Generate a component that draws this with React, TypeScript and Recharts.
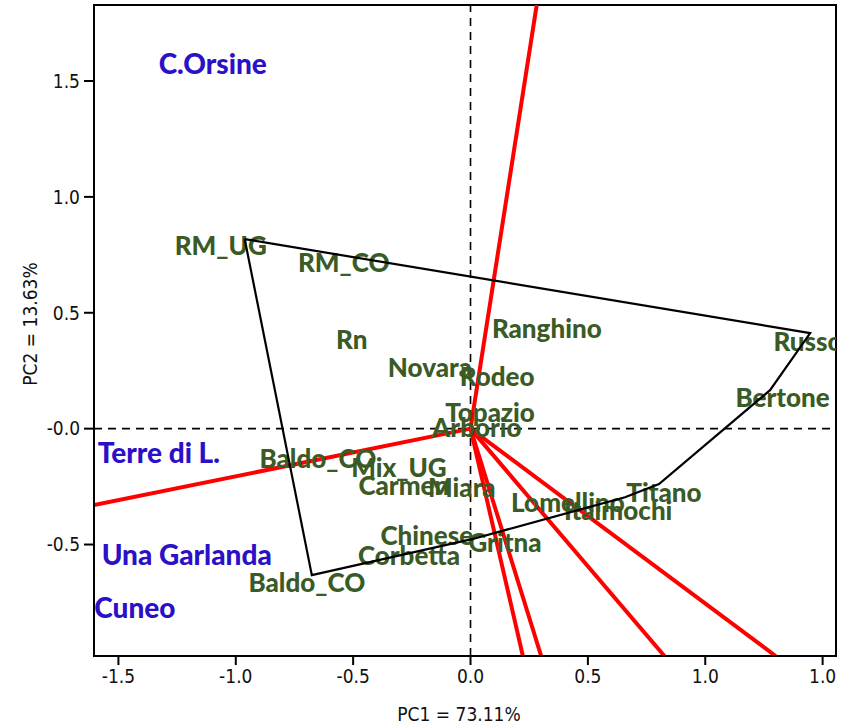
import {
  ComposedChart,
  Scatter,
  XAxis,
  YAxis,
  ReferenceLine,
  ReferenceArea,
} from "recharts";

// genotype labels (green) and their PC1 / PC2 scores
const genoNames = [
  "RM_UG", "RM_CO", "Rn", "Novara", "Ranghino", "Rodeo", "Russo", "Bertone",
  "Topazio", "Arborio", "Baldo_CO", "Mix_UG", "Carmen", "Miara", "Lomellino",
  "Itaimochi", "Titano", "Chinese", "Gritna", "Corbetta", "Baldo_CO",
];
const genoPC1 = [
  -1.064, -0.54, -0.506, -0.173, 0.325, 0.113, 1.438, 1.329,
  0.083, 0.027, -0.65, -0.305, -0.284, -0.037, 0.415,
  0.629, 0.824, -0.186, 0.147, -0.262, -0.697,
];
const genoPC2 = [
  0.792, 0.718, 0.386, 0.265, 0.433, 0.226, 0.379, 0.136,
  0.071, 0.006, -0.127, -0.166, -0.244, -0.252, -0.317,
  -0.352, -0.274, -0.459, -0.49, -0.546, -0.662,
];

// environment labels (blue)
const envNames = ["C.Orsine", "Terre di L.", "Una Garlanda", "Cuneo"];
const envPC1 = [-1.098, -1.328, -1.209, -1.43];
const envPC2 = [1.577, -0.101, -0.541, -0.77];

// environment vectors from the origin
const vecPC1 = [0.282, -1.604, 0.223, 0.301, 0.826, 1.3];
const vecPC2 = [1.828, -0.33, -0.981, -0.981, -0.981, -0.981];

// polygon (convex hull) vertices
const hullPC1 = [-0.962, 1.447, 1.276, 0.803, 0.658, 0.006, -0.676, -0.962];
const hullPC2 = [0.818, 0.412, 0.166, -0.239, -0.296, -0.477, -0.632, 0.818];

const xTicks = [-1.5, -1, -0.5, 0, 0.5, 1, 1.5];
const xTickLabels = ["-1.5", "-1.0", "-0.5", "0.0", "0.5", "1.0", "1.0"];
const yTicks = [-0.5, 0, 0.5, 1, 1.5];
const yTickLabels = ["-0.5", "-0.0", "0.5", "1.0", "1.5"];

const X_DOMAIN: [number, number] = [-1.604, 1.557];
const Y_DOMAIN: [number, number] = [-0.981, 1.828];

const genoData = genoNames.map((name, i) => ({ x: genoPC1[i], y: genoPC2[i], name }));
const envData = envNames.map((name, i) => ({ x: envPC1[i], y: envPC2[i], name }));
const hullData = hullPC1.map((x, i) => ({ x, y: hullPC2[i] }));

const GREEN = "#3a5a26";
const BLUE = "#2b10c8";
const TICK_FONT = "'DejaVu Sans Condensed', 'DejaVu Sans', sans-serif";
const LABEL_FONT = "Lato, 'Open Sans', sans-serif";

const makeLabel = (color: string, size: number) => (props: any) => {
  const { cx, cy, payload } = props;
  return (
    <text
      x={cx}
      y={cy}
      textAnchor="middle"
      dominantBaseline="central"
      fill={color}
      fontSize={size}
      fontWeight={900}
      fontFamily={LABEL_FONT}
    >
      {payload.name}
    </text>
  );
};

export default function App() {
  return (
    <div style={{ position: "absolute", left: 0, top: 0, background: "#fff" }}>
      <ComposedChart
        width={844}
        height={724}
        margin={{ top: 5, right: 8, bottom: 18, left: 0 }}
      >
        <XAxis
          type="number"
          dataKey="x"
          domain={X_DOMAIN}
          ticks={xTicks}
          allowDataOverflow
          height={50}
          tickSize={9}
          tickMargin={5}
          axisLine={{ stroke: "#000", strokeWidth: 2 }}
          tickLine={{ stroke: "#000", strokeWidth: 2 }}
          tick={{ fill: "#111", fontSize: 19, fontFamily: TICK_FONT }}
          tickFormatter={(v: number) => xTickLabels[xTicks.indexOf(v)]}
          label={{
            content: () => (
              <text x={459} y={714} textAnchor="middle" dominantBaseline="central" fill="#111" fontSize={19} fontFamily={TICK_FONT}>
                PC1 = 73.11%
              </text>
            ),
          }}
        />
        <YAxis
          type="number"
          dataKey="y"
          domain={Y_DOMAIN}
          ticks={yTicks}
          allowDataOverflow
          width={94}
          tickSize={10}
          tickMargin={4}
          axisLine={{ stroke: "#000", strokeWidth: 2 }}
          tickLine={{ stroke: "#000", strokeWidth: 2 }}
          tick={{ fill: "#111", fontSize: 19, fontFamily: TICK_FONT }}
          tickFormatter={(v: number) => yTickLabels[yTicks.indexOf(v)]}
          label={{
            content: () => (
              <text
                x={30}
                y={324}
                transform="rotate(-90 30 324)"
                textAnchor="middle"
                dominantBaseline="central"
                fill="#111"
                fontSize={19}
                fontFamily={TICK_FONT}
              >
                PC2 = 13.63%
              </text>
            ),
          }}
        />
        <ReferenceArea
          x1={X_DOMAIN[0]}
          x2={X_DOMAIN[1]}
          y1={Y_DOMAIN[0]}
          y2={Y_DOMAIN[1]}
          fill="none"
          stroke="#000"
          strokeWidth={2}
        />
        <Scatter data={genoData} shape={makeLabel(GREEN, 26)} isAnimationActive={false} />
        <Scatter data={envData} shape={makeLabel(BLUE, 28)} isAnimationActive={false} />
        <Scatter
          data={hullData}
          line={{ stroke: "#000", strokeWidth: 2.2 }}
          lineType="joint"
          shape={() => <g />}
          isAnimationActive={false}
        />
        <ReferenceLine x={0} stroke="#000" strokeWidth={1.6} strokeDasharray="8 6" />
        <ReferenceLine y={0} stroke="#000" strokeWidth={1.6} strokeDasharray="8 6" />
        {vecPC1.map((vx, i) => (
          <ReferenceLine
            key={i}
            segment={[{ x: 0, y: 0 }, { x: vx, y: vecPC2[i] }]}
            stroke="#ff0000"
            strokeWidth={4}
            ifOverflow="hidden"
          />
        ))}
      </ComposedChart>
    </div>
  );
}
